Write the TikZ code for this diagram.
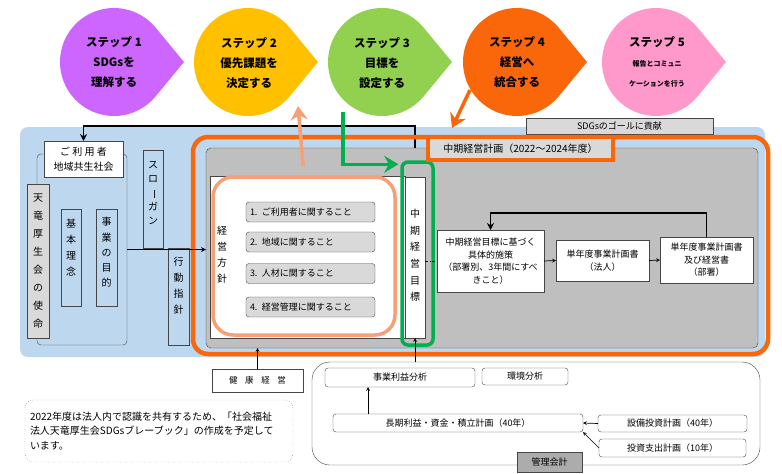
\documentclass[tikz,border=0pt]{standalone}
\usepackage{fontspec}
\setmainfont{Noto Sans CJK JP}
\usepackage{graphicx}
\usetikzlibrary{calc,arrows.meta}

\definecolor{bgblue}{RGB}{189,215,238}
\definecolor{stepone}{RGB}{204,102,255}
\definecolor{steptwo}{RGB}{255,192,0}
\definecolor{stepthree}{RGB}{146,208,80}
\definecolor{stepfour}{RGB}{250,102,10}
\definecolor{stepfive}{RGB}{255,153,204}
\definecolor{salmon}{RGB}{247,160,120}
\definecolor{okgreen}{RGB}{0,176,80}
\definecolor{framegray}{RGB}{191,191,191}
\definecolor{boxgray}{RGB}{217,217,217}
\definecolor{edgegray}{RGB}{70,70,70}

% teardrop: centre, colour
\newcommand{\stepdrop}[2]{%
  \fill[#2] ($(#1)+(40:54)$) arc[start angle=40, end angle=320, radius=54] -- ($(#1)+(70,0)$) -- cycle;}

\begin{document}
\begin{tikzpicture}[>=stealth, x=1pt, y=-1pt,
  plainbox/.style={draw=edgegray, fill=white, inner sep=0pt, outer sep=0pt, align=center, font=\fontsize{9}{12.5}\selectfont},
  vbox/.style={draw=edgegray, inner sep=0pt, outer sep=0pt},
  vtext/.style={align=center, inner sep=0pt, font=\fontsize{10}{16}\selectfont},
  itembox/.style={plainbox, fill=boxgray, rounded corners=3pt, text width=121pt, align=left, minimum width=129, minimum height=20},
  stepfont/.style={align=center, inner sep=0pt, font=\fontsize{11.5}{20}\selectfont\bfseries},
  fbarrow/.style={-{Stealth[length=7pt,width=7pt]}, line width=1.6pt},
  thinarrow/.style={->, line width=0.7pt},
  bigarrow/.style={-{Stealth[length=14pt,width=17pt]}, line width=3.5pt}]

\useasboundingbox (0,0) rectangle (782,474);

% Background
\fill[bgblue, rounded corners=8pt] (20,127) rectangle (765,357);

% SDGs goal tab
\node[plainbox, fill=boxgray, minimum width=187, minimum height=16] (goal) at (619.5,126) {SDGsのゴールに貢献};

% Gray frame and policy
\node[vbox, fill=framegray, rounded corners=5pt, minimum width=552, minimum height=200] (gray) at (482,248) {};
\node[vbox, fill=white, minimum width=195, minimum height=162] (hoshin) at (307.5,257) {};
\node[draw=salmon, line width=3.5pt, fill=white, rounded corners=20pt, minimum width=182, minimum height=158, inner sep=0pt] (keiei) at (304,256) {};
\node[vtext] (hoshin-t) at (222,255) {経\\営\\方\\針};

\node[itembox] (item1) at (310.5,212) {1. ご利用者に関すること};
\node[itembox] (item2) at (310.5,242) {2. 地域に関すること};
\node[itembox] (item3) at (310.5,273.5) {3. 人材に関すること};
\node[itembox] (item4) at (310.5,307) {4. 経営管理に関すること};

% Mid-term target
\node[vbox, fill=white, minimum width=20, minimum height=161] (mokuhyou) at (415,257.5) {};
\node[vtext, font=\fontsize{10}{16.6}\selectfont] (mokuhyou-t) at (415,255.5) {中\\期\\経\\営\\目\\標};
\node[draw=okgreen, line width=3.5pt, rounded corners=6pt, minimum width=31, minimum height=183, inner sep=0pt] (midframe) at (417.5,253.5) {};

% Measures and yearly plans
\node[plainbox, minimum width=107, minimum height=62] (seisaku) at (490.5,261) {中期経営目標に基づく\\具体的施策\\（部署別、3年間にすべ\\きこと）};
\node[plainbox, minimum width=93, minimum height=41] (houjin) at (602.5,260.5) {単年度事業計画書\\（法人）};
\node[plainbox, minimum width=93, minimum height=46] (busho) at (706.5,260) {単年度事業計画書\\及び経営書\\（部署）};

\draw[dash dot] (mokuhyou.east |- seisaku.west) -- (seisaku.west);
\draw[thinarrow] (seisaku.east) -- (houjin.west);
\draw[thinarrow] (houjin.east) -- (busho.west);
\draw[fbarrow] (busho.north) -- ++(0,-24) -| (seisaku.north);

% Left side
\node[vbox, fill=bgblue, rounded corners=4pt, minimum width=90, minimum height=191] (leftframe) at (82,249.5) {};
\node[plainbox, minimum width=79, minimum height=36, font=\fontsize{10}{15}\selectfont] (user) at (83.5,159) {ご 利 用 者\\地域共生社会};
\node[vbox, fill=boxgray, minimum width=22, minimum height=154] (mission) at (38,261) {};
\node[vtext, font=\fontsize{10}{18}\selectfont] (mission-t) at (38,261.5) {天\\竜\\厚\\生\\会\\の\\使\\命};
\node[vbox, fill=bgblue, minimum width=20, minimum height=97] (rinen) at (71,257.5) {};
\node[vtext] (rinen-t) at (71,247.5) {基\\本\\理\\念};
\node[vbox, fill=bgblue, minimum width=21, minimum height=97] (mokuteki) at (106.5,257.5) {};
\node[vtext, font=\fontsize{10}{15.25}\selectfont] (mokuteki-t) at (106.5,252.5) {事\\業\\の\\目\\的};
\node[vbox, fill=bgblue, minimum width=20, minimum height=98] (slogan) at (153,199) {};
\node[vtext, font=\fontsize{10}{14}\selectfont] (slogan-t) at (153,193) {ス\\ロ\\\rotatebox[origin=c]{-90}{ー}\\ガ\\ン};
\node[vbox, fill=bgblue, minimum width=21, minimum height=97] (koudou) at (178.5,296.5) {};
\node[vtext] (koudou-t) at (178.5,285.5) {行\\動\\指\\針};

% Return line to users
\draw[fbarrow] (mokuhyou.north |- gray.north) -- ++(0,-22) -| (user.north);

% Orange plan frame
\node[draw=stepfour, line width=4.5pt, rounded corners=15pt, minimum width=575, minimum height=217, inner sep=0pt] (plan) at (480.5,245.5) {};
\node[plainbox, draw=stepfour, line width=3.5pt, fill=boxgray, minimum width=185, minimum height=23, font=\fontsize{10}{12}\selectfont] (kikan) at (520.5,148.5) {中期経営計画（2022～2024年度）};

\draw[->, line width=1.2pt] (leftframe.east) -- (leftframe.east -| gray.west);

% Steps
\stepdrop{114,62}{stepone}
\stepdrop{248,62}{steptwo}
\stepdrop{382,62}{stepthree}
\stepdrop{517,62}{stepfour}
\stepdrop{656,62}{stepfive}
\node[stepfont] (step1) at (114,62) {ステップ 1\\SDGsを\\理解する};
\node[stepfont] (step2) at (249,63) {ステップ 2\\優先課題を\\決定する};
\node[stepfont] (step3) at (382,63) {ステップ 3\\目標を\\設定する};
\node[stepfont] (step4) at (517,62) {ステップ 4\\経営へ\\統合する};
\node[stepfont] (step5) at (657,62) {ステップ 5\\{\fontsize{7}{20}\selectfont 報告とコミュニ}\\{\fontsize{7}{20}\selectfont ケーションを行う}};

% Step arrows
\coordinate (step2-in) at (298,106);
\coordinate (step3-out) at (343,112);
\coordinate (step4-out) at (470,90);
\coordinate (plan-in) at (452,128);
\draw[bigarrow, salmon, shorten <=9pt] (keiei.north) -- (step2-in);
\draw[bigarrow, okgreen, shorten >=2pt] (step3-out) |- ([yshift=-4pt]midframe.north west);
\draw[bigarrow, stepfour] (step4-out) -- (plan-in);

% Health management
\node[plainbox, minimum width=91, minimum height=23, font=\fontsize{8.5}{10}\selectfont] (kenkou) at (257.5,380.5) {健\hspace{0.9em}康\hspace{0.9em}経\hspace{0.9em}営};
\draw[thinarrow] (kenkou.north) -- (kenkou.north |- gray.south);

% Management accounting
\node[draw=edgegray, fill=white, rounded corners=18pt, minimum width=448, minimum height=103, inner sep=0pt] (kanri) at (536,413.5) {};
\node[plainbox, rounded corners=3pt, minimum width=150, minimum height=19] (rieki) at (400,377.5) {事業利益分析};
\node[plainbox, rounded corners=3pt, minimum width=86, minimum height=17] (kankyou) at (525,376.5) {環境分析};
\node[plainbox, rounded corners=3pt, minimum width=250, minimum height=18] (chouki) at (458,423) {長期利益・資金・積立計画（40年）};
\node[plainbox, rounded corners=3pt, minimum width=149, minimum height=17] (setsubi) at (672.5,423.5) {設備投資計画（40年）};
\node[plainbox, rounded corners=3pt, minimum width=147, minimum height=18] (toushi) at (672.5,448) {投資支出計画（10年）};
\node[plainbox, fill=gray!65, minimum width=65, minimum height=20] (kanri-t) at (549.5,462) {管理会計};

\draw[thinarrow] ([xshift=35pt]chouki.north west) -- ([xshift=35pt]chouki.north west |- rieki.south);
\draw[thinarrow] (setsubi.west) -- (chouki.east);
\draw[thinarrow] (toushi.west) -- (chouki.south east);
\draw[thinarrow] (mokuhyou.south |- kanri.north) -- (mokuhyou.south);

% Note
\node[draw=edgegray, dotted, rounded corners=8pt, minimum width=268, minimum height=62, inner sep=0pt, text width=258pt, align=left, font=\fontsize{10}{14.5}\selectfont] (note) at (159,431) {2022年度は法人内で認識を共有するため、「社会福祉\\法人天竜厚生会SDGsブレーブック」の作成を予定して\\います。};

\end{tikzpicture}
\end{document}
